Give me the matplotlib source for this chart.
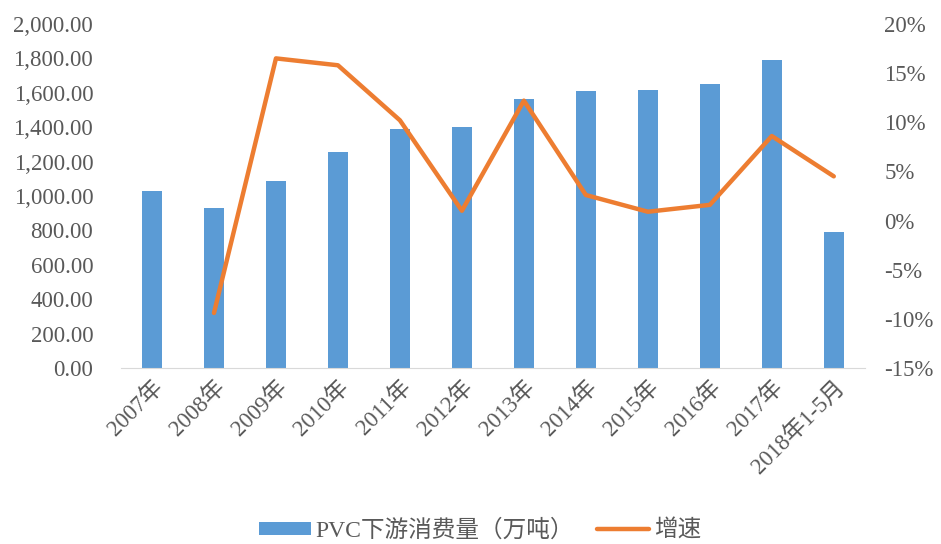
import numpy as np
import matplotlib.pyplot as plt
from matplotlib.ticker import FuncFormatter

plt.rcParams['font.family'] = ['Liberation Serif', 'Noto Sans CJK SC']

years = ['2007年', '2008年', '2009年', '2010年', '2011年', '2012年',
         '2013年', '2014年', '2015年', '2016年', '2017年', '2018年1-5月']
consumption = [1030, 930, 1087, 1256, 1390, 1401, 1564, 1610, 1616, 1651, 1791, 791]
growth = [np.nan, -9.4, 16.5, 15.8, 10.2, 1.0, 12.2, 2.6, 0.9, 1.6, 8.6, 4.5]

fig = plt.figure(figsize=(9.41, 5.44), dpi=100)
ax = fig.add_axes([0.1286, 0.3235, 0.7904, 0.6324])
x = np.arange(len(years))
bars = ax.bar(x, consumption, width=0.33, color='#5B9BD5', label='PVC下游消费量（万吨）')
ax.set_xlim(-0.5, len(years) - 0.5)
ax.set_ylim(0, 2000)
ax.set_yticks(np.arange(0, 2001, 200))
ax.yaxis.set_major_formatter(FuncFormatter(lambda v, p: f'{v:,.2f}'))
ax.set_xticks(x)
ax.set_xticklabels(years, rotation=45, ha='right', rotation_mode='anchor')

ax2 = ax.twinx()
line, = ax2.plot(x, growth, color='#ED7D31', lw=3.2, label='增速', solid_capstyle='round')
ax2.set_ylim(-15, 20)
ax2.set_yticks(np.arange(-15, 21, 5))
ax2.yaxis.set_major_formatter(FuncFormatter(lambda v, p: f'{v:.0f}%'))

for a in (ax, ax2):
    for s in a.spines.values():
        s.set_visible(False)
    a.tick_params(length=0, labelsize=16.5, colors='#595959')
ax.spines['bottom'].set_visible(True)
ax.spines['bottom'].set_color('#D9D9D9')
ax.tick_params(axis='y', pad=20)
ax.tick_params(axis='x', pad=6)
ax2.tick_params(axis='y', pad=14)

fig.legend([bars, line], ['PVC下游消费量（万吨）', '增速'], loc='lower center',
           bbox_to_anchor=(0.51, -0.035), ncol=2, frameon=False, fontsize=17,
           handlelength=2.2, handleheight=0.5, handletextpad=0.2, columnspacing=1.0,
           labelcolor='#595959')

fig.savefig('out.png', dpi=100)
